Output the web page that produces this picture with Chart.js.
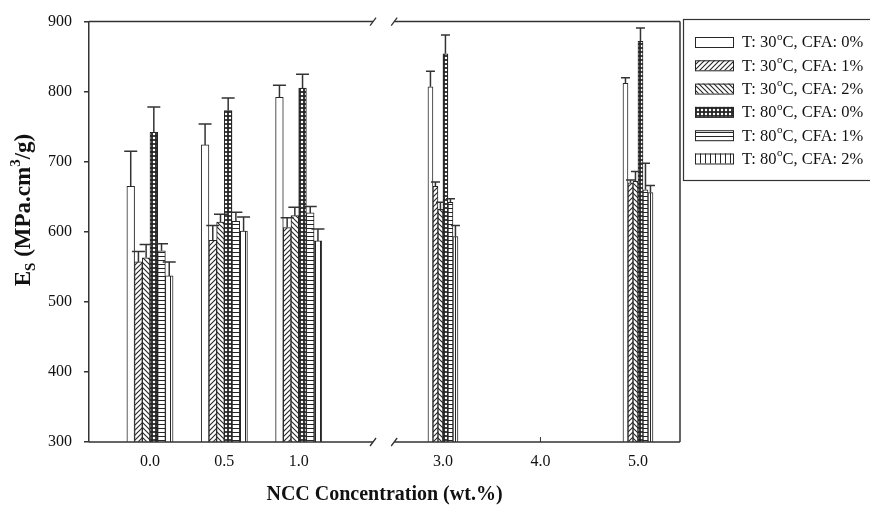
<!DOCTYPE html>
<html><head><meta charset="utf-8">
<script src="https://cdn.jsdelivr.net/npm/chart.js@4"></script>
<style>html,body{margin:0;padding:0;background:#fff}</style>
</head><body>
<canvas id="c" width="870" height="506"></canvas>
<script>
// ---------- data ----------
const concentrations = [0.0, 0.5, 1.0, 3.0, 5.0];   // wt.% NCC
const xTickValues = [0.0, 0.5, 1.0, 3.0, 4.0, 5.0];
const seriesLabels = ['T: 30°C, CFA: 0%', 'T: 30°C, CFA: 1%', 'T: 30°C, CFA: 2%',
                      'T: 80°C, CFA: 0%', 'T: 80°C, CFA: 1%', 'T: 80°C, CFA: 2%'];
const t30cfa0 = [665, 724, 792, 807, 812];
const t30cfa1 = [557, 588, 606, 665, 670];
const t30cfa2 = [563, 614, 623, 632, 672];
const t80cfa0 = [742, 773, 805, 854, 872];
const t80cfa1 = [573, 615, 627, 642, 660];
const t80cfa2 = [537, 601, 587, 593, 656];
const t30cfa0Err = [50, 30, 17, 22, 8];
const t30cfa1Err = [15, 21, 14, 6, 4];
const t30cfa2Err = [19, 11, 12, 10, 14];
const t80cfa0Err = [36, 18, 20, 27, 19];
const t80cfa1Err = [10, 13, 9, 5, 38];
const t80cfa2Err = [20, 20, 17, 16, 10];
const yMin = 300, yMax = 900, yStep = 100;

// ---------- broken x axis (left part 0-1.5, right part 2.5-5.5 drawn at a smaller scale) ----------
const LEFT_END = 1.5, RIGHT_START = 2.5;
const R_ORIGIN = 1.970, R_SCALE = 0.6557;
const toAxis = c => (c <= LEFT_END ? c : R_ORIGIN + (c - 3) * R_SCALE);
const X_MIN = -0.41, X_MAX = 3.564;

// ---------- styling ----------
const SERIF = "'Liberation Serif','Times New Roman',serif";
const INK = '#262626';
const AXIS = '#333333';

function makePattern(kind) {
  const n = {fwd:5, back:5, cross:4, horiz:4, vert:5}[kind];
  const c = document.createElement('canvas'); c.width = n; c.height = n;
  const g = c.getContext('2d');
  g.fillStyle = '#fff'; g.fillRect(0,0,n,n);
  g.strokeStyle = INK; g.fillStyle = INK; g.lineWidth = 1.1;
  g.beginPath();
  if (kind === 'fwd') {
    g.moveTo(-1, n+1); g.lineTo(n+1, -1);
    g.moveTo(-1, 1); g.lineTo(1, -1);
    g.moveTo(n-1, n+1); g.lineTo(n+1, n-1);
    g.stroke();
  } else if (kind === 'back') {
    g.moveTo(-1, -1); g.lineTo(n+1, n+1);
    g.moveTo(n-1, -1); g.lineTo(n+1, 1);
    g.moveTo(-1, n-1); g.lineTo(1, n+1);
    g.stroke();
  } else if (kind === 'cross') {
    g.fillRect(0,0,n,n);
    g.fillStyle = '#fff';
    g.beginPath(); g.arc(n/2, n/2, 1.25, 0, Math.PI*2); g.fill();
  } else if (kind === 'horiz') {
    g.fillRect(0, 0, n, 1);
  } else if (kind === 'vert') {
    g.fillRect(0, 0, 1, n);
  }
  return g.createPattern(c, 'repeat');
}
const fills = ['#ffffff', makePattern('fwd'), makePattern('back'),
               makePattern('cross'), makePattern('horiz'), makePattern('vert')];

const seriesValues = [t30cfa0, t30cfa1, t30cfa2, t80cfa0, t80cfa1, t80cfa2];
const seriesErrors = [t30cfa0Err, t30cfa1Err, t30cfa2Err, t80cfa0Err, t80cfa1Err, t80cfa2Err];

const datasets = [];
[['left', 7.7, 13], ['right', 5, 9]].forEach(([side, thick, cap]) => {
  seriesValues.forEach((vals, s) => {
    const inPanel = c => (side === 'left' ? c <= LEFT_END : c >= RIGHT_START);
    datasets.push({
      label: seriesLabels[s], panel: side,
      data: concentrations.map((c, i) => ({x: toAxis(c), y: inPanel(c) ? vals[i] : null})),
      errors: seriesErrors[s],
      backgroundColor: fills[s], borderColor: INK, borderWidth: 1,
      barThickness: thick, skipNull: true, capWidth: cap
    });
  });
});

const errorBars = {
  id: 'errorBars',
  afterDatasetsDraw(chart) {
    const ctx = chart.ctx, y = chart.scales.y;
    ctx.save(); ctx.strokeStyle = AXIS; ctx.lineWidth = 1.5;
    chart.data.datasets.forEach((ds, di) => {
      const meta = chart.getDatasetMeta(di);
      meta.data.forEach((el, j) => {
        const v = ds.data[j].y;
        if (v === null || v === undefined) return;
        const e = ds.errors[j];
        const y0 = y.getPixelForValue(v), y1 = y.getPixelForValue(v + e);
        ctx.beginPath();
        ctx.moveTo(el.x, y0); ctx.lineTo(el.x, y1);
        ctx.moveTo(el.x - ds.capWidth/2, y1); ctx.lineTo(el.x + ds.capWidth/2, y1);
        ctx.stroke();
      });
    });
    ctx.restore();
  }
};

const frame = {
  id: 'frame',
  afterDraw(chart) {
    const {ctx, chartArea: {left, right, top, bottom}, scales: {x}} = chart;
    const b1 = x.getPixelForValue(toAxis(LEFT_END)), b2 = x.getPixelForValue(toAxis(RIGHT_START));
    ctx.save(); ctx.strokeStyle = AXIS; ctx.lineWidth = 1.5;
    ctx.beginPath();
    [top, bottom].forEach(yy => {
      ctx.moveTo(left, yy); ctx.lineTo(b1, yy);
      ctx.moveTo(b2, yy); ctx.lineTo(right, yy);
    });
    ctx.moveTo(right, top); ctx.lineTo(right, bottom);
    ctx.stroke();
    ctx.lineWidth = 1.3;
    ctx.beginPath();
    [top, bottom].forEach(yy => [b1, b2].forEach(xx => {
      ctx.moveTo(xx - 3, yy + 4); ctx.lineTo(xx + 3, yy - 4);
    }));
    ctx.stroke();
    // inward tick marks on the x axis
    ctx.lineWidth = 1;
    ctx.beginPath();
    x.ticks.forEach(t => {
      const px = x.getPixelForValue(t.value);
      ctx.moveTo(px, bottom); ctx.lineTo(px, bottom - 5);
    });
    ctx.stroke();
    ctx.restore();
  }
};

const yTitle = {
  id: 'yTitle',
  afterDraw(chart) {
    const ctx = chart.ctx;
    const parts = [['E', 23, 0], ['S', 15, 5], [' (MPa.cm', 23, 0], ['3', 15, -10], ['/g)', 23, 0]];
    ctx.save();
    ctx.fillStyle = '#111';
    ctx.textBaseline = 'alphabetic'; ctx.textAlign = 'left';
    let w = 0;
    parts.forEach(p => { ctx.font = 'bold ' + p[1] + 'px ' + SERIF; w += ctx.measureText(p[0]).width; });
    ctx.translate(30, 210); ctx.rotate(-Math.PI/2);
    let xx = -w/2;
    parts.forEach(p => {
      ctx.font = 'bold ' + p[1] + 'px ' + SERIF;
      ctx.fillText(p[0], xx, p[2]);
      xx += ctx.measureText(p[0]).width;
    });
    ctx.restore();
  }
};

const legendBox = {
  id: 'legendBox',
  afterDraw(chart) {
    const ctx = chart.ctx;
    ctx.save();
    ctx.strokeStyle = AXIS; ctx.lineWidth = 1.2;
    ctx.strokeRect(683.5, 19.5, 200, 161);
    const items = chart.data.datasets.filter(ds => ds.panel === 'left');
    items.forEach((ds, i) => {
      const cy = 42 + i * 23.3;
      ctx.fillStyle = ds.backgroundColor;
      ctx.fillRect(695, cy - 5, 38, 10);
      ctx.strokeStyle = INK; ctx.lineWidth = 1;
      ctx.strokeRect(695.5, cy - 5 + 0.5, 38, 10);
      ctx.fillStyle = '#111';
      ctx.textBaseline = 'middle'; ctx.textAlign = 'left';
      const segs = ds.label.split('°');
      let xx = 742;
      ctx.font = '16.5px ' + SERIF;
      ctx.fillText(segs[0], xx, cy + 1); xx += ctx.measureText(segs[0]).width;
      ctx.font = '11px ' + SERIF;
      ctx.fillText('o', xx + 0.5, cy - 5); xx += ctx.measureText('o').width + 0.5;
      ctx.font = '16.5px ' + SERIF;
      ctx.fillText(segs[1], xx, cy + 1);
    });
    ctx.restore();
  }
};

const tickFont = {family: SERIF, size: 16};
new Chart(document.getElementById('c'), {
  type: 'bar',
  data: {datasets},
  options: {
    responsive: false, animation: false,
    layout: {padding: {left: 0, right: 190, top: 20, bottom: 0}},
    plugins: {legend: {display: false}, tooltip: {enabled: false}},
    scales: {
      x: {type: 'linear', position: 'bottom', offset: false, min: X_MIN, max: X_MAX,
        afterBuildTicks: s => { s.ticks = xTickValues.map(c => ({value: toAxis(c)})); },
        afterFit: s => { s.height = 64; },
        grid: {display: false, drawTicks: false, offset: false}, border: {display: false},
        ticks: {callback: (v, i) => xTickValues[i].toFixed(1), font: tickFont, color: '#111',
          padding: 10, maxRotation: 0, autoSkip: false},
        title: {display: true, text: 'NCC Concentration (wt.%)', color: '#111',
          font: {family: SERIF, size: 20, weight: 'bold', lineHeight: 1}, padding: {top: 0, bottom: 1}}},
      y: {type: 'linear', min: yMin, max: yMax, beginAtZero: false,
        afterFit: s => { s.width = 89; },
        ticks: {stepSize: yStep, font: tickFont, color: '#111', padding: 12},
        grid: {drawOnChartArea: false, tickLength: 5, color: AXIS, lineWidth: 1.5},
        border: {color: AXIS, width: 1.5}}
    }
  },
  plugins: [errorBars, frame, yTitle, legendBox]
});
</script>
</body></html>
